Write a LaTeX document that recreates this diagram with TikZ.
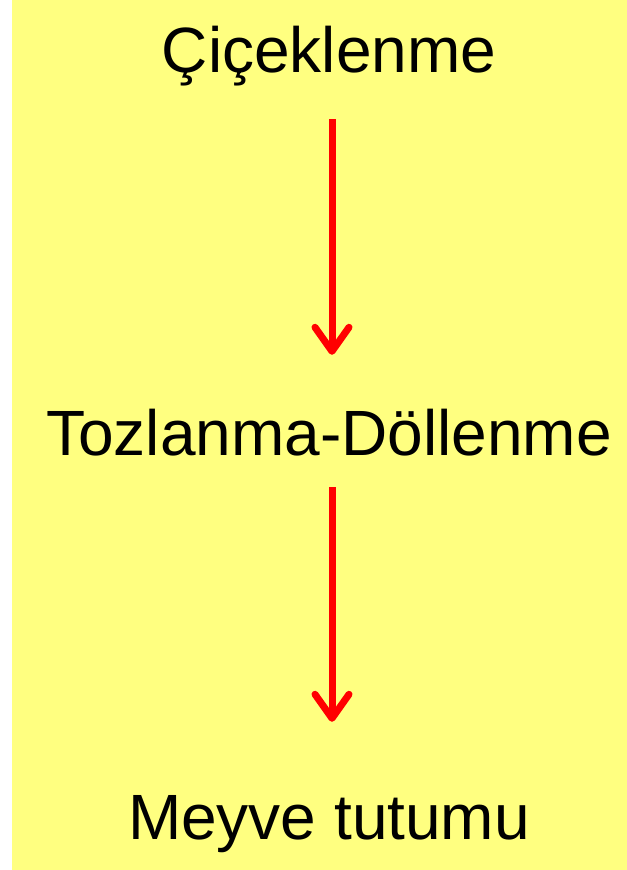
\documentclass[tikz,border=0pt]{standalone}
\usepackage{fontspec}
\setmainfont{Liberation Sans}
\usetikzlibrary{arrows.meta}
\definecolor{paleyellow}{HTML}{FFFF80}
\definecolor{arrowred}{HTML}{FF0000}
\tikzset{
  stage/.style={inner sep=0pt, anchor=base, text height=46bp, text depth=13bp,
    font=\fontsize{64bp}{70bp}\selectfont},
  flow/.style={draw=arrowred, line width=7bp, transform canvas={xshift=3bp},
    -{Straight Barb[length=24bp, width=34bp, round]}}
}
\begin{document}
\begin{tikzpicture}[x=1bp, y=1bp]
  \useasboundingbox (0,0) rectangle (627,-870);
  \fill[paleyellow] (12,0) rectangle (627,-870);
  \node[stage] (flower) at (329,-72) {Çiçeklenme};
  \node[stage] (pollin) at (329,-455) {Tozlanma-Döllenme};
  \node[stage] (fruit) at (329,-839) {Meyve tutumu};
  \draw[flow, shorten <=34bp, shorten >=54bp] (flower) -- (pollin);
  \draw[flow, shorten <=19bp, shorten >=71bp] (pollin) -- (fruit);
\end{tikzpicture}
\end{document}
